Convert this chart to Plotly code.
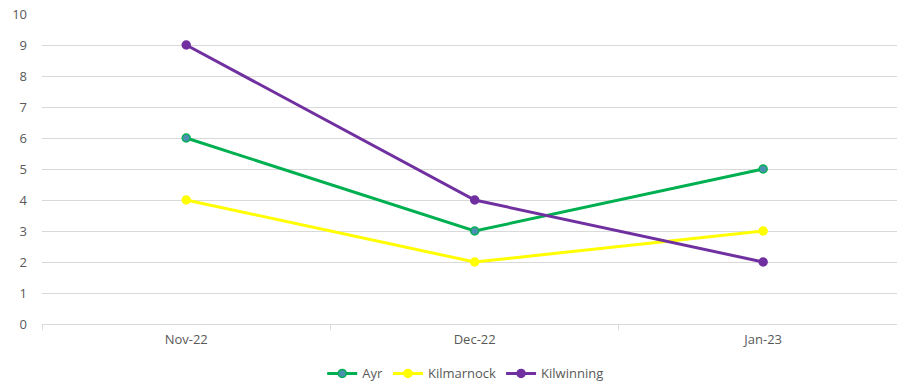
import plotly.graph_objects as go

months = ["Nov-22", "Dec-22", "Jan-23"]
ayr = [6, 3, 5]
kilmarnock = [4, 2, 3]
kilwinning = [9, 4, 2]

series = [
    ("Ayr", ayr, "#00B050", "#4A90B0"),
    ("Kilmarnock", kilmarnock, "#FFFF00", "#FFFF00"),
    ("Kilwinning", kilwinning, "#7030A0", "#7030A0"),
]

fig = go.Figure()
for name, vals, col, fill in series:
    fig.add_trace(go.Scatter(
        x=months, y=vals, name=name, mode="lines+markers",
        line=dict(color=col, width=3),
        marker=dict(size=8, color=fill, line=dict(color=col, width=1.5)),
    ))

font = dict(family="Open Sans, Liberation Sans, sans-serif", size=13, color="#595959")

fig.update_layout(
    width=898, height=385,
    margin=dict(l=42, r=1, t=14, b=61, autoexpand=False),
    paper_bgcolor="white", plot_bgcolor="white",
    font=font,
    showlegend=True,
    hovermode=False,
    legend=dict(orientation="h", x=0.495, xanchor="center",
                yref="container", y=0.03, yanchor="middle",
                font=font, traceorder="normal"),
    xaxis=dict(
        type="category", range=[-0.5, 2.464], showgrid=False, zeroline=False,
        tickson="boundaries", ticks="outside", ticklen=5, tickcolor="#D9D9D9",
        showline=False, tickfont=font, automargin=False, ticklabelstandoff=6,
    ),
    yaxis=dict(
        range=[0, 10], dtick=1, showgrid=True, gridcolor="#D9D9D9", gridwidth=1,
        zeroline=True, zerolinecolor="#D9D9D9", zerolinewidth=1,
        showline=False, tickfont=font, ticks="", ticklen=0, automargin=False,
        ticklabelstandoff=14,
    ),
)

fig.write_html("out.html")
